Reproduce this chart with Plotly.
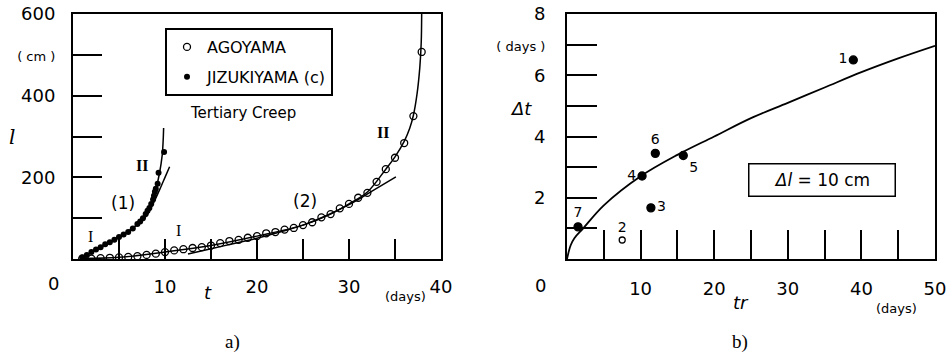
import plotly.graph_objects as go

# ---------------- Panel a) data (read from picture) ----------------
ago_t = [1, 2, 3, 4, 5, 6, 7, 8, 9, 10, 11, 12, 13, 14, 15, 16, 17, 18, 19, 20,
         21, 22, 23, 24, 25, 26, 27, 28, 29, 30, 31, 32, 33, 34, 35, 36, 37, 37.9]
ago_l = [1, 1, 2, 3, 4, 5, 7, 10, 13, 17, 21, 24, 27, 29, 33, 39, 44, 47, 52, 56,
         63, 66, 72, 76, 83, 90, 102, 110, 124, 135, 150, 162, 189, 220, 248, 284, 350, 507]

jiz_t = [1.0, 1.5, 2.0, 2.5, 3.0, 3.5, 4.0, 4.5, 5.0, 5.5, 6.0, 6.5, 7.0, 7.3, 7.6,
         7.9, 8.1, 8.3, 8.5, 8.7, 8.8, 8.9, 9.0, 9.2, 9.3, 9.9]
jiz_l = [4, 10, 17, 23, 29, 36, 41, 47, 54, 60, 66, 75, 86, 92, 100,
         110, 118, 125, 135, 146, 155, 165, 172, 184, 211, 262]

# fitted curves
jiz_tert_t = [1.0, 2.0, 3.0, 4.0, 5.0, 6.0, 7.0, 8.0, 8.5, 9.0, 9.4, 9.7, 9.8, 9.85]
jiz_tert_l = [3, 17, 29, 41, 54, 66, 85, 113, 135, 170, 210, 255, 290, 321]
jiz_sec_t = [1.0, 3.0, 5.0, 7.0, 8.0, 8.5, 9.0, 9.5, 10.0, 10.5]
jiz_sec_l = [3, 29, 54, 84, 106, 126, 149, 174, 200, 226]

ago_tert_t = [1, 5, 10, 15, 20, 25, 28, 30, 32, 34, 35, 36, 36.6, 37.0, 37.4, 37.7, 37.85, 37.9]
ago_tert_l = [1, 4, 17, 33, 56, 83, 110, 135, 164, 220, 250, 288, 320, 352, 405, 470, 530, 600]
ago_sec_t = [12.5, 15, 17.5, 20, 22.5, 25, 27.5, 30, 32.5, 35.1]
ago_sec_l = [12, 25, 38, 51, 66, 83, 106, 133, 166, 201]

# ---------------- Panel b) data (read from picture) ----------------
site_id = ["1", "2", "3", "4", "5", "6", "7"]
tr_days = [38.9, 7.5, 11.4, 10.2, 15.8, 12.0, 1.5]
dt_days = [6.5, 0.62, 1.67, 2.71, 3.38, 3.45, 1.05]
site_open = [False, True, False, False, False, False, False]
label_pos = ["middle left", "top center", "middle right", "middle left",
             "bottom right", "top center", "top center"]

fit_tr = [0, 0.5, 1, 2.2, 5, 10, 15, 20, 25, 30, 35, 40, 45, 50]
fit_dt = [0, 0.45, 0.68, 1.0, 1.75, 2.7, 3.4, 4.0, 4.6, 5.1, 5.6, 6.1, 6.55, 6.96]

FONT = "DejaVu Sans"
BLACK = "black"

fig = go.Figure()

line_style = dict(color=BLACK, width=1.5, shape="spline")
for cx, cy in [(jiz_tert_t, jiz_tert_l), (jiz_sec_t, jiz_sec_l),
               (ago_tert_t, ago_tert_l), (ago_sec_t, ago_sec_l)]:
    fig.add_trace(go.Scatter(x=cx, y=cy, mode="lines", line=line_style,
                             showlegend=False, xaxis="x", yaxis="y", hoverinfo="skip"))

fig.add_trace(go.Scatter(x=ago_t, y=ago_l, mode="markers", name="AGOYAMA", legendgroup="g1",
                         marker=dict(symbol="circle-open", size=7, color=BLACK, opacity=1, line=dict(width=1.3)),
                         xaxis="x", yaxis="y"))
fig.add_trace(go.Scatter(x=jiz_t, y=jiz_l, mode="markers", name="JIZUKIYAMA (c)", legendgroup="g2",
                         marker=dict(symbol="circle", size=6, color=BLACK, opacity=1),
                         xaxis="x", yaxis="y"))

# panel b
fig.add_trace(go.Scatter(x=fit_tr, y=fit_dt, mode="lines", line=dict(color=BLACK, width=1.8, shape="spline"),
                         showlegend=False, xaxis="x2", yaxis="y2", hoverinfo="skip"))
fig.add_trace(go.Scatter(
    x=tr_days, y=dt_days, mode="markers+text", text=site_id, textposition=label_pos,
    textfont=dict(family=FONT, size=14, color=BLACK),
    marker=dict(symbol=["circle-open" if o else "circle" for o in site_open],
                size=[6 if o else 8 for o in site_open], color=BLACK, opacity=1,
                line=dict(width=1.3, color=BLACK)),
    showlegend=False, xaxis="x2", yaxis="y2", cliponaxis=False))

W, H = 947, 360
dom_y = [(H - 259) / H, (H - 14) / H]

axis_common = dict(showline=True, mirror=True, linecolor=BLACK, linewidth=2, ticks="inside",
                   tickcolor=BLACK, tickwidth=1.5, showgrid=False, zeroline=False, automargin=False,
                   tickfont=dict(family=FONT, size=18, color=BLACK))

fig.update_layout(
    template="none",
    width=W, height=H, margin=dict(l=0, r=0, t=0, b=0, pad=0), autosize=False,
    paper_bgcolor="white", plot_bgcolor="white",
    font=dict(family=FONT, color=BLACK),
    xaxis=dict(domain=[73 / W, 441 / W], range=[0, 40], tickvals=[5, 10, 15, 20, 25, 30, 35, 40],
               ticktext=["", "10", "", "20", "", "30", "", "40"], ticklen=20, ticklabelstandoff=10,
               anchor="y", **axis_common),
    yaxis=dict(domain=dom_y, range=[0, 600], tickvals=[100, 200, 300, 400, 500, 600],
               ticktext=["", "200", "", "400", "<span style='font-size:13px'>( cm )</span>", "600"],
               ticklen=29, ticklabelstandoff=12, anchor="x", **axis_common),
    xaxis2=dict(domain=[567 / W, 935 / W], range=[0, 50], tickvals=[5, 10, 15, 20, 25, 30, 35, 40, 45, 50],
                ticktext=["", "10", "", "20", "", "30", "", "40", "", "50"], ticklen=29, ticklabelstandoff=12,
                anchor="y2", **axis_common),
    yaxis2=dict(domain=dom_y, range=[0, 8], tickvals=[1, 2, 3, 4, 5, 6, 7, 8],
                ticktext=["", "2", "", "4", "", "6", "<span style='font-size:13px'>( days )</span>", "8"],
                ticklen=30, ticklabelstandoff=16, anchor="x2", **axis_common),
    legend=dict(x=165 / W, y=(H - 28) / H, xanchor="left", yanchor="top",
                bordercolor=BLACK, borderwidth=2, bgcolor="white", tracegroupgap=6,
                font=dict(family=FONT, size=16, color=BLACK), itemwidth=30),
)

ann = []
def txt(x, y, s, size=15, family=FONT, xref="paper", yref="paper", **kw):
    ann.append(dict(x=x, y=y, text=s, xref=xref, yref=yref, showarrow=False,
                    xanchor="center", yanchor="middle",
                    font=dict(family=family, size=size, color=BLACK), **kw))

# corner zeros and axis titles (pixel positions converted to paper)
txt(53 / W, (H - 283) / H, "0", 18)
txt(540 / W, (H - 285) / H, "0", 18)
txt(12 / W, (H - 137) / H, "<i>l</i>", 20, family="DejaVu Serif")
txt(208 / W, (H - 292) / H, "<i>t</i>", 18)
txt(405 / W, (H - 296) / H, "(days)", 13)
txt(521 / W, (H - 108) / H, "<i>Δt</i>", 18)
txt(741 / W, (H - 302) / H, "<i>tr</i>", 18)
txt(896 / W, (H - 308) / H, "(days)", 13)
txt(232 / W, (H - 342) / H, "a)", 19, family="Liberation Serif")
txt(740 / W, (H - 342) / H, "b)", 19, family="Liberation Serif")

# panel a in-plot labels
txt(18.5, 358, "Tertiary Creep", 15, xref="x", yref="y")
txt(7.5, 230, "<b>II</b>", 16, family="Liberation Serif", xref="x", yref="y")
txt(33.7, 311, "<b>II</b>", 16, family="Liberation Serif", xref="x", yref="y")
txt(1.85, 56, "I", 16, family="Liberation Serif", xref="x", yref="y")
txt(11.5, 71, "I", 16, family="Liberation Serif", xref="x", yref="y")
txt(5.4, 137, "(1)", 17, xref="x", yref="y")
txt(25.2, 142, "(2)", 17, xref="x", yref="y")

# panel b box label
ann.append(dict(x=822 / W, y=(H - 180) / H, xref="paper", yref="paper", showarrow=False,
                xanchor="center", yanchor="middle",
                text="<i>Δl</i> = 10 cm", font=dict(family=FONT, size=17, color=BLACK),
                bordercolor=BLACK, borderwidth=1.5, width=143, height=29, bgcolor="white"))

fig.update_layout(annotations=ann)
fig.write_html("out.html")
